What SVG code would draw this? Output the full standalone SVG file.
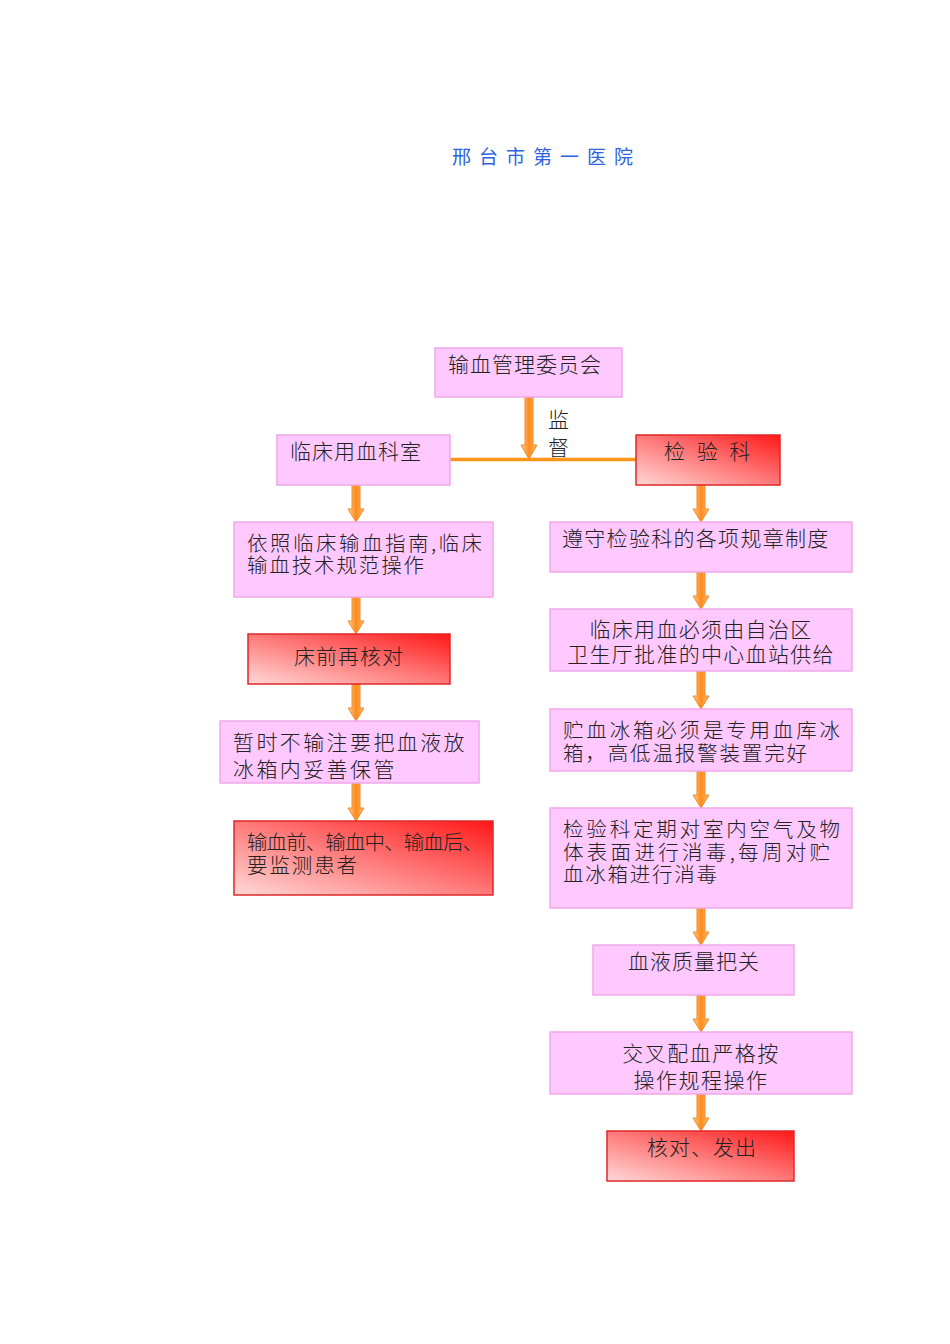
<svg xmlns="http://www.w3.org/2000/svg" width="950" height="1344" viewBox="0 0 950 1344">
<defs>
<linearGradient id="red" x1="0" y1="1" x2="1" y2="0">
<stop offset="0" stop-color="#FFD8D8"/>
<stop offset="0.55" stop-color="#FF7070"/>
<stop offset="1" stop-color="#FF1818"/>
</linearGradient>
<linearGradient id="org" x1="0" y1="0" x2="1" y2="0">
<stop offset="0" stop-color="#FFD090"/>
<stop offset="0.5" stop-color="#FF8A1A"/>
<stop offset="1" stop-color="#FFC070"/>
</linearGradient>
<style>
.pk{fill:#FFC8FF;stroke:#F0A8E8;stroke-width:1.5}
.rd{fill:url(#red);stroke:#E02828;stroke-width:1.5}
.ar{fill:url(#org);stroke:#F08A30;stroke-width:1}
text{font-family:"Noto Sans CJK SC","Noto Sans CJK JP",sans-serif;font-size:21px;fill:#222;font-weight:300}
.s{font-size:20.5px}
.t{fill:#2F62E0;font-size:19px;letter-spacing:8px;font-weight:400}
.c{text-anchor:middle}
</style>
</defs>
<text class="t" x="452" y="164">邢台市第一医院</text>
<g id="connectors">
<line x1="450" y1="459.5" x2="637" y2="459.5" stroke="#FF9418" stroke-width="3.5"/>
<path class="ar" d="M525,397 h8 v48 h4 l-8,14 l-8,-14 h4 z"/>
<path class="ar" d="M352,485 h8 v24 h4 l-8,13 l-8,-13 h4 z"/>
<path class="ar" d="M352,597 h8 v24 h4 l-8,13 l-8,-13 h4 z"/>
<path class="ar" d="M352,684 h8 v24 h4 l-8,13 l-8,-13 h4 z"/>
<path class="ar" d="M352,783 h8 v25 h4 l-8,13 l-8,-13 h4 z"/>
<path class="ar" d="M697,485 h8 v24 h4 l-8,13 l-8,-13 h4 z"/>
<path class="ar" d="M697,572 h8 v24 h4 l-8,13 l-8,-13 h4 z"/>
<path class="ar" d="M697,671 h8 v25 h4 l-8,13 l-8,-13 h4 z"/>
<path class="ar" d="M697,771 h8 v24 h4 l-8,13 l-8,-13 h4 z"/>
<path class="ar" d="M697,908 h8 v24 h4 l-8,13 l-8,-13 h4 z"/>
<path class="ar" d="M697,995 h8 v24 h4 l-8,13 l-8,-13 h4 z"/>
<path class="ar" d="M697,1094 h8 v24 h4 l-8,13 l-8,-13 h4 z"/>
<text x="548" y="427">监</text>
<text x="548" y="455">督</text>
</g>
<g id="n1"><rect class="pk" x="435" y="348" width="187" height="49"/><text x="448" y="372" letter-spacing="1">输血管理委员会</text></g>
<g id="n2"><rect class="pk" x="277" y="435" width="173" height="50"/><text x="290" y="459" letter-spacing="1">临床用血科室</text></g>
<g id="n3"><rect class="rd" x="636" y="435" width="144" height="50"/><text x="664" y="459" letter-spacing="3.5">检 验 科</text></g>
<g id="n4"><rect class="pk" x="234" y="522" width="259" height="75"/><text class="s" x="247" y="551" textLength="235" lengthAdjust="spacing">依照临床输血指南,临床</text><text class="s" x="247" y="573" textLength="177" lengthAdjust="spacing">输血技术规范操作</text></g>
<g id="n5"><rect class="rd" x="248" y="634" width="202" height="50"/><text class="c" x="349" y="664" letter-spacing="1">床前再核对</text></g>
<g id="n6"><rect class="pk" x="220" y="721" width="259" height="62"/><text x="233" y="750" letter-spacing="2.4">暂时不输注要把血液放</text><text x="233" y="777" letter-spacing="2.4">冰箱内妥善保管</text></g>
<g id="n7"><rect class="rd" x="234" y="821" width="259" height="74"/><text class="s" x="247" y="850" textLength="236" lengthAdjust="spacing">输血前、输血中、输血后、</text><text class="s" x="247" y="873" textLength="110" lengthAdjust="spacing">要监测患者</text></g>
<g id="n8"><rect class="pk" x="550" y="522" width="302" height="50"/><text x="562" y="546" letter-spacing="1.3">遵守检验科的各项规章制度</text></g>
<g id="n9"><rect class="pk" x="550" y="609" width="302" height="62"/><text class="c" x="701" y="637" letter-spacing="1.3">临床用血必须由自治区</text><text class="c" x="701" y="662" letter-spacing="1.3">卫生厅批准的中心血站供给</text></g>
<g id="n10"><rect class="pk" x="550" y="709" width="302" height="62"/><text class="s" x="563" y="738" textLength="277" lengthAdjust="spacing">贮血冰箱必须是专用血库冰</text><text class="s" x="563" y="761" textLength="244" lengthAdjust="spacing">箱，高低温报警装置完好</text></g>
<g id="n11"><rect class="pk" x="550" y="808" width="302" height="100"/><text class="s" x="563" y="837" textLength="277" lengthAdjust="spacing">检验科定期对室内空气及物</text><text class="s" x="563" y="860" textLength="267" lengthAdjust="spacing">体表面进行消毒,每周对贮</text><text class="s" x="563" y="882" textLength="154" lengthAdjust="spacing">血冰箱进行消毒</text></g>
<g id="n12"><rect class="pk" x="593" y="945" width="201" height="50"/><text class="c" x="694" y="969" letter-spacing="1">血液质量把关</text></g>
<g id="n13"><rect class="pk" x="550" y="1032" width="302" height="62"/><text class="c" x="701" y="1061" letter-spacing="1.5">交叉配血严格按</text><text class="c" x="701" y="1088" letter-spacing="1.5">操作规程操作</text></g>
<g id="n14"><rect class="rd" x="607" y="1131" width="187" height="50"/><text x="647" y="1155" letter-spacing="1">核对、发出</text></g>
</svg>
